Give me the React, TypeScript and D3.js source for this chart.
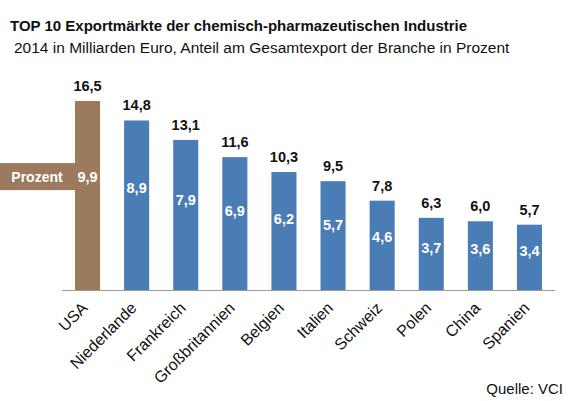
import * as d3 from 'd3'

const categories = ['USA', 'Niederlande', 'Frankreich', 'Großbritannien', 'Belgien', 'Italien', 'Schweiz', 'Polen', 'China', 'Spanien']
const exportValues = [16.5, 14.8, 13.1, 11.6, 10.3, 9.5, 7.8, 6.3, 6.0, 5.7]
const shareValues = [9.9, 8.9, 7.9, 6.9, 6.2, 5.7, 4.6, 3.7, 3.6, 3.4]

const W = 580
const H = 401
const BLUE = '#4a7db5'
const BROWN = '#9c7a5d'
const FONT = 'Arial, "Liberation Sans", sans-serif'

const fmt = (v: number) => v.toFixed(1).replace('.', ',')

const App = () => {
  const x = d3.scaleBand<string>()
    .domain(categories)
    .range([62, 555])
    .paddingInner(0.49)
    .paddingOuter(0.265)

  const y = d3.scaleLinear()
    .domain([0, 16.5])
    .range([290, 101])

  const bw = x.bandwidth()

  return (
    <svg width={W} height={H} style={{ position: 'absolute', left: 0, top: 0, background: '#fff' }} fontFamily={FONT}>
      <text x={10} y={31} fontSize={15} fontWeight="bold" fill="#111">
        TOP 10 Exportmärkte der chemisch-pharmazeutischen Industrie
      </text>
      <text x={14} y={53} fontSize={15.5} fill="#111">
        2014 in Milliarden Euro, Anteil am Gesamtexport der Branche in Prozent
      </text>

      {/* Prozent tag */}
      <rect x={0} y={y(shareValues[0]) - 13.5} width={x(categories[0])!} height={27} fill={BROWN} />
      <text x={37} y={y(shareValues[0]) + 5} fontSize={14} fontWeight="bold" fill="#fff" textAnchor="middle">
        Prozent
      </text>

      {categories.map((c, i) => {
        const x0 = x(c)!
        const cx = x0 + bw / 2
        return (
          <g key={c}>
            <rect x={x0} y={y(exportValues[i])} width={bw} height={y(0) - y(exportValues[i])} fill={i === 0 ? BROWN : BLUE} />
            <text x={cx} y={y(exportValues[i]) - 10} fontSize={14.5} fontWeight="bold" fill="#111" textAnchor="middle">
              {fmt(exportValues[i])}
            </text>
            <text x={cx} y={y(shareValues[i]) + 5} fontSize={14.5} fontWeight="bold" fill="#fff" textAnchor="middle">
              {fmt(shareValues[i])}
            </text>
            <text
              transform={`translate(${cx + 1},${309}) rotate(-45)`}
              fontSize={16}
              fill="#111"
              textAnchor="end"
            >
              {c}
            </text>
          </g>
        )
      })}

      <line x1={62} x2={555} y1={290.5} y2={290.5} stroke="#999" strokeWidth={1} />

      <text x={563} y={394} fontSize={15} fill="#111" textAnchor="end">
        Quelle: VCI
      </text>
    </svg>
  )
}

export default App
